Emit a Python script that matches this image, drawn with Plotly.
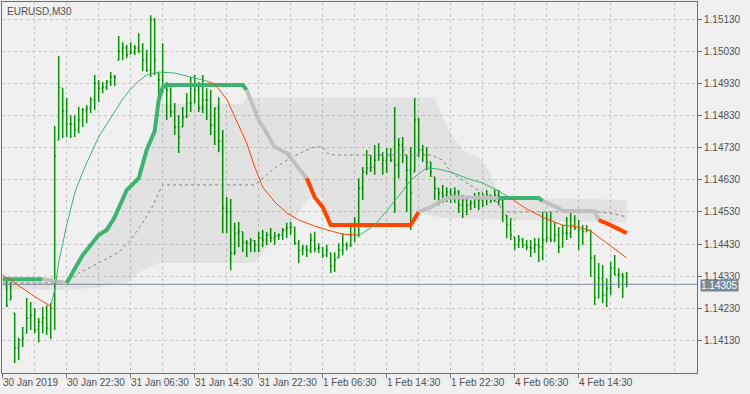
import plotly.graph_objects as go

chart_title = "EURUSD,M30"
x_tick_index = [0, 16, 32, 48, 64, 80, 96, 112, 128, 144]
x_tick_labels = ["30 Jan 2019", "30 Jan 22:30", "31 Jan 06:30", "31 Jan 14:30", "31 Jan 22:30",
                 "1 Feb 06:30", "1 Feb 14:30", "1 Feb 22:30", "4 Feb 06:30", "4 Feb 14:30"]
x_grid_minor = [8, 24, 40, 56, 72, 88, 104, 120, 136, 152, 168]
y_tick_values = [1.14130, 1.14230, 1.14330, 1.14430, 1.14530, 1.14630, 1.14730, 1.14830,
                 1.14930, 1.15030, 1.15130]
last_price = 1.14305

bar_index = list(range(1, 157))
bar_high = [1.14318, 1.14312, 1.14216, 1.14138, 1.14172, 1.14262, 1.14250, 1.14231, 1.14200, 1.14234,
            1.14240, 1.14247, 1.14797, 1.15015, 1.14915, 1.14884, 1.14831, 1.14831, 1.14856, 1.14853,
            1.14862, 1.14887, 1.14956, 1.14940, 1.14934, 1.14940, 1.14965, 1.14956, 1.15077, 1.15058,
            1.15049, 1.15058, 1.15049, 1.15086, 1.15055, 1.15034, 1.15142, 1.15133, 1.14962, 1.15055,
            1.14934, 1.14918, 1.14869, 1.14831, 1.14856, 1.14900, 1.14950, 1.14956, 1.14934, 1.14956,
            1.14915, 1.14909, 1.14853, 1.14887, 1.14785, 1.14576, 1.14570, 1.14496, 1.14499, 1.14468,
            1.14443, 1.14449, 1.14443, 1.14468, 1.14474, 1.14468, 1.14480, 1.14468, 1.14464, 1.14480,
            1.14496, 1.14499, 1.14483, 1.14443, 1.14427, 1.14427, 1.14464, 1.14468, 1.14433, 1.14421,
            1.14427, 1.14402, 1.14405, 1.14433, 1.14464, 1.14436, 1.14496, 1.14514, 1.14635, 1.14670,
            1.14723, 1.14707, 1.14738, 1.14744, 1.14716, 1.14729, 1.14729, 1.14856, 1.14760, 1.14763,
            1.14707, 1.14732, 1.14884, 1.14822, 1.14738, 1.14732, 1.14685, 1.14639, 1.14604, 1.14614,
            1.14607, 1.14604, 1.14607, 1.14598, 1.14583, 1.14576, 1.14567, 1.14589, 1.14592, 1.14589,
            1.14598, 1.14583, 1.14598, 1.14598, 1.14567, 1.14520, 1.14511, 1.14452, 1.14458, 1.14449,
            1.14443, 1.14443, 1.14449, 1.14449, 1.14530, 1.14530, 1.14530, 1.14499, 1.14483, 1.14489,
            1.14514, 1.14530, 1.14520, 1.14505, 1.14489, 1.14489, 1.14474, 1.14396, 1.14371, 1.14365,
            1.14324, 1.14374, 1.14396, 1.14355, 1.14340, 1.14343]
bar_low = [1.14234, 1.14256, 1.14060, 1.14069, 1.14110, 1.14153, 1.14163, 1.14153, 1.14125, 1.14153,
           1.14147, 1.14135, 1.14163, 1.14754, 1.14760, 1.14763, 1.14760, 1.14763, 1.14775, 1.14794,
           1.14806, 1.14838, 1.14847, 1.14872, 1.14900, 1.14909, 1.14922, 1.14922, 1.15002, 1.15002,
           1.15009, 1.15021, 1.15018, 1.15024, 1.14968, 1.14965, 1.14950, 1.14956, 1.14878, 1.14900,
           1.14816, 1.14825, 1.14769, 1.14713, 1.14794, 1.14822, 1.14841, 1.14869, 1.14841, 1.14838,
           1.14816, 1.14769, 1.14738, 1.14716, 1.14464, 1.14464, 1.14349, 1.14396, 1.14421, 1.14405,
           1.14390, 1.14405, 1.14405, 1.14405, 1.14421, 1.14427, 1.14436, 1.14427, 1.14443, 1.14443,
           1.14449, 1.14458, 1.14427, 1.14371, 1.14396, 1.14390, 1.14402, 1.14405, 1.14402, 1.14387,
           1.14390, 1.14340, 1.14343, 1.14387, 1.14396, 1.14411, 1.14421, 1.14436, 1.14452, 1.14567,
           1.14646, 1.14654, 1.14646, 1.14691, 1.14646, 1.14651, 1.14685, 1.14527, 1.14635, 1.14682,
           1.14530, 1.14474, 1.14654, 1.14701, 1.14685, 1.14660, 1.14639, 1.14567, 1.14551, 1.14558,
           1.14561, 1.14558, 1.14558, 1.14527, 1.14511, 1.14520, 1.14536, 1.14542, 1.14536, 1.14545,
           1.14551, 1.14558, 1.14561, 1.14551, 1.14499, 1.14449, 1.14443, 1.14411, 1.14418, 1.14418,
           1.14411, 1.14390, 1.14402, 1.14374, 1.14380, 1.14436, 1.14436, 1.14436, 1.14402, 1.14421,
           1.14443, 1.14449, 1.14474, 1.14411, 1.14427, 1.14468, 1.14328, 1.14240, 1.14262, 1.14247,
           1.14234, 1.14271, 1.14334, 1.14293, 1.14262, 1.14296]
bar_close = [1.14240, 1.14268, 1.14107, 1.14132, 1.14138, 1.14200, 1.14209, 1.14163, 1.14188, 1.14200,
             1.14169, 1.14231, 1.14704, 1.14918, 1.14844, 1.14803, 1.14803, 1.14785, 1.14816, 1.14847,
             1.14853, 1.14878, 1.14931, 1.14915, 1.14918, 1.14934, 1.14950, 1.14950, 1.15030, 1.15040,
             1.15018, 1.15027, 1.15040, 1.15030, 1.15002, 1.14971, 1.15127, 1.15002, 1.14940, 1.14915,
             1.14909, 1.14841, 1.14794, 1.14763, 1.14825, 1.14869, 1.14869, 1.14909, 1.14853, 1.14878,
             1.14878, 1.14800, 1.14853, 1.14751, 1.14542, 1.14530, 1.14402, 1.14464, 1.14468, 1.14436,
             1.14433, 1.14440, 1.14427, 1.14449, 1.14443, 1.14458, 1.14449, 1.14455, 1.14458, 1.14474,
             1.14480, 1.14483, 1.14433, 1.14411, 1.14418, 1.14411, 1.14443, 1.14415, 1.14418, 1.14396,
             1.14411, 1.14362, 1.14380, 1.14411, 1.14427, 1.14427, 1.14458, 1.14489, 1.14604, 1.14654,
             1.14667, 1.14670, 1.14691, 1.14707, 1.14691, 1.14707, 1.14691, 1.14676, 1.14738, 1.14723,
             1.14660, 1.14589, 1.14816, 1.14723, 1.14707, 1.14685, 1.14654, 1.14604, 1.14589, 1.14583,
             1.14592, 1.14583, 1.14592, 1.14551, 1.14567, 1.14551, 1.14558, 1.14574, 1.14567, 1.14574,
             1.14583, 1.14567, 1.14583, 1.14567, 1.14530, 1.14489, 1.14458, 1.14427, 1.14443, 1.14427,
             1.14421, 1.14418, 1.14427, 1.14421, 1.14443, 1.14449, 1.14443, 1.14458, 1.14421, 1.14464,
             1.14464, 1.14489, 1.14480, 1.14474, 1.14468, 1.14474, 1.14387, 1.14262, 1.14324, 1.14271,
             1.14293, 1.14355, 1.14334, 1.14334, 1.14328, 1.14305]
bar_open = [1.14300, 1.14256, 1.14216, 1.14107, 1.14132, 1.14153, 1.14200, 1.14209, 1.14163, 1.14188,
            1.14200, 1.14169, 1.14231, 1.14754, 1.14915, 1.14844, 1.14803, 1.14803, 1.14785, 1.14816,
            1.14847, 1.14853, 1.14878, 1.14931, 1.14915, 1.14918, 1.14934, 1.14950, 1.15002, 1.15030,
            1.15040, 1.15021, 1.15027, 1.15040, 1.15030, 1.15002, 1.14971, 1.15127, 1.14962, 1.14940,
            1.14915, 1.14909, 1.14841, 1.14794, 1.14794, 1.14825, 1.14869, 1.14869, 1.14909, 1.14853,
            1.14878, 1.14878, 1.14800, 1.14853, 1.14751, 1.14542, 1.14530, 1.14402, 1.14464, 1.14468,
            1.14436, 1.14433, 1.14440, 1.14427, 1.14449, 1.14443, 1.14458, 1.14449, 1.14455, 1.14458,
            1.14474, 1.14480, 1.14483, 1.14433, 1.14411, 1.14418, 1.14411, 1.14443, 1.14415, 1.14418,
            1.14396, 1.14402, 1.14362, 1.14387, 1.14411, 1.14427, 1.14427, 1.14458, 1.14489, 1.14604,
            1.14654, 1.14667, 1.14670, 1.14691, 1.14707, 1.14691, 1.14707, 1.14691, 1.14676, 1.14738,
            1.14707, 1.14660, 1.14654, 1.14816, 1.14723, 1.14707, 1.14685, 1.14639, 1.14604, 1.14589,
            1.14583, 1.14592, 1.14583, 1.14592, 1.14551, 1.14567, 1.14551, 1.14558, 1.14574, 1.14567,
            1.14574, 1.14583, 1.14567, 1.14583, 1.14567, 1.14520, 1.14489, 1.14452, 1.14427, 1.14443,
            1.14427, 1.14421, 1.14418, 1.14427, 1.14421, 1.14443, 1.14449, 1.14443, 1.14458, 1.14421,
            1.14464, 1.14464, 1.14489, 1.14480, 1.14474, 1.14468, 1.14474, 1.14387, 1.14262, 1.14324,
            1.14271, 1.14293, 1.14355, 1.14334, 1.14334, 1.14328]

# thin moving average
ma_index = [0, 3, 6, 9, 12, 13, 14, 16, 18, 20, 22, 24, 26, 28, 30, 32, 34, 36, 39, 43, 46, 51, 53,
            56, 58, 61, 63, 65, 68, 71, 74, 78, 82, 85, 89, 90, 93, 96, 99, 102, 105, 106, 109, 112,
            116, 120, 124, 127, 131, 136, 140, 144, 147, 149, 153, 156]
ma_value = [1.14334, 1.14309, 1.14284, 1.14259, 1.14237, 1.14287, 1.14374, 1.14489, 1.14589, 1.14654,
            1.14710, 1.14763, 1.14803, 1.14844, 1.14881, 1.14912, 1.14937, 1.14956, 1.14965, 1.14962,
            1.14953, 1.14937, 1.14928, 1.14881, 1.14825, 1.14744, 1.14670, 1.14607, 1.14561, 1.14527,
            1.14505, 1.14486, 1.14471, 1.14461, 1.14458, 1.14464, 1.14489, 1.14533, 1.14579, 1.14629,
            1.14657, 1.14667, 1.14663, 1.14654, 1.14635, 1.14620, 1.14595, 1.14573, 1.14539, 1.14508,
            1.14489, 1.14483, 1.14471, 1.14452, 1.14415, 1.14387]
ma_turn_index = [0, 12, 51, 89, 127, 156]
ma_turn_dir = ["down", "up", "down", "up", "down"]

# thick trend line with three states
trend_index = [0, 10, 16, 20, 24, 26, 28, 31, 34, 36, 38, 39, 40, 41, 60, 61, 62, 64, 66, 68, 71, 73,
               76, 78, 80, 82, 102, 104, 107, 110, 112, 124, 134, 135, 139, 140, 148, 149, 152, 156]
trend_value = [1.14321, 1.14321, 1.14309, 1.14396, 1.14458, 1.14474, 1.14514, 1.14598, 1.14635,
               1.14723, 1.14782, 1.14878, 1.14918, 1.14925, 1.14925, 1.14909, 1.14878, 1.14816,
               1.14775, 1.14732, 1.14713, 1.14682, 1.14635, 1.14576, 1.14545, 1.14489, 1.14489,
               1.14530, 1.14545, 1.14567, 1.14576, 1.14573, 1.14573, 1.14564, 1.14542, 1.14533,
               1.14533, 1.14505, 1.14489, 1.14464]
trend_state = ["up", "flat", "up", "up", "up", "up", "up", "up", "up", "up", "up", "up", "up", "up",
               "up", "flat", "flat", "flat", "flat", "flat", "flat", "flat", "down", "down", "down",
               "down", "down", "flat", "flat", "flat", "flat", "up", "up", "flat", "flat", "flat",
               "flat", "down", "down", "down"]

# dashed middle line
mid_index = [0, 16, 19, 24, 29, 32, 35, 37, 39, 40, 63, 68, 72, 76, 78, 80, 81, 83, 107, 110, 112,
             116, 120, 124, 125, 149, 152, 156]
mid_value = [1.14309, 1.14309, 1.14340, 1.14371, 1.14405, 1.14443, 1.14496, 1.14536, 1.14589, 1.14614,
             1.14614, 1.14667, 1.14698, 1.14723, 1.14732, 1.14732, 1.14713, 1.14707, 1.14707, 1.14691,
             1.14654, 1.14620, 1.14589, 1.14558, 1.14530, 1.14530, 1.14527, 1.14514]

# shaded channel
band_upper_index = [0, 16, 20, 24, 28, 31, 34, 36, 38, 39, 60, 61, 108, 110, 112, 115, 119, 121, 123,
                    124, 125, 156]
band_upper_value = [1.14321, 1.14309, 1.14396, 1.14458, 1.14514, 1.14598, 1.14635, 1.14723, 1.14782,
                    1.14866, 1.14866, 1.14887, 1.14887, 1.14825, 1.14775, 1.14723, 1.14701, 1.14670,
                    1.14620, 1.14589, 1.14576, 1.14567]
band_lower_index = [0, 16, 24, 31, 34, 36, 39, 63, 66, 71, 74, 76, 79, 80, 82, 102, 104, 110, 127, 156]
band_lower_value = [1.14287, 1.14287, 1.14296, 1.14312, 1.14340, 1.14355, 1.14371, 1.14371, 1.14421,
                    1.14474, 1.14527, 1.14567, 1.14583, 1.14567, 1.14489, 1.14489, 1.14527, 1.14511,
                    1.14505, 1.14496]

BG = "#f0f0f0"
GRID = "#c8c8c8"
FRAME = "#6e6e6e"
TEXT = "#505050"
BAR = "#079207"
GREEN = "#3cb371"
RED = "#ff4500"
SILVER = "#c0c0c0"
STATE_COLOR = {"up": GREEN, "down": RED, "flat": SILVER}
FONT = "Liberation Sans"

fig = go.Figure()

# channel band
fig.add_trace(go.Scatter(
    x=band_upper_index + band_lower_index[::-1],
    y=band_upper_value + band_lower_value[::-1],
    fill="toself", fillcolor="rgba(0,0,0,0.055)", line=dict(width=0),
    mode="lines", hoverinfo="skip"))

# last price line
fig.add_trace(go.Scatter(x=[-1, 180], y=[last_price, last_price], mode="lines",
                         line=dict(color="#778899", width=1), hoverinfo="skip"))

# price bars
fig.add_trace(go.Ohlc(x=bar_index, open=bar_open, high=bar_high, low=bar_low, close=bar_close,
                      increasing=dict(line=dict(color=BAR, width=1.5)),
                      decreasing=dict(line=dict(color=BAR, width=1.5)),
                      tickwidth=0.3, hoverinfo="skip"))

# dashed middle
fig.add_trace(go.Scatter(x=mid_index, y=mid_value, mode="lines",
                         line=dict(color="#858585", width=1, dash="3px,3px"), hoverinfo="skip"))

# thick trend line in coloured runs
start = 0
n = len(trend_index)
while start < n - 1:
    st = trend_state[start]
    end = start
    while end < n - 1 and trend_state[end] == st:
        end += 1
    fig.add_trace(go.Scatter(x=trend_index[start:end + 1], y=trend_value[start:end + 1], mode="lines",
                             line=dict(color=STATE_COLOR[st], width=4), hoverinfo="skip"))
    start = end

# thin MA in coloured runs
for k, d in enumerate(ma_turn_dir):
    a, b = ma_turn_index[k], ma_turn_index[k + 1]
    xs = [i for i in ma_index if a <= i <= b]
    ys = [v for i, v in zip(ma_index, ma_value) if a <= i <= b]
    fig.add_trace(go.Scatter(x=xs, y=ys, mode="lines",
                             line=dict(color=STATE_COLOR[d], width=1), hoverinfo="skip"))

annotations = [dict(x=0, y=1, xref="paper", yref="paper", xanchor="left", yanchor="top",
                    xshift=3, yshift=-2, text=chart_title, showarrow=False,
                    font=dict(family=FONT, size=10, color=TEXT))]
for xi, lab in zip(x_tick_index, x_tick_labels):
    annotations.append(dict(x=xi, y=0, xref="x", yref="paper", xanchor="left", yanchor="top",
                            xshift=-2, yshift=-2, text=lab, showarrow=False,
                            font=dict(family=FONT, size=10, color=TEXT)))
annotations.append(dict(x=1, y=last_price, xref="paper", yref="y", xanchor="left", yanchor="middle",
                        xshift=3, yshift=-1, text=f"{last_price:.5f}", showarrow=False,
                        bgcolor="#778899", borderpad=0,
                        font=dict(family=FONT, size=10, color="#ffffff")))

fig.update_layout(
    width=750, height=394, margin=dict(l=2, r=53, t=2, b=21),
    paper_bgcolor=BG, plot_bgcolor=BG, showlegend=False,
    font=dict(family=FONT, size=10, color=TEXT),
    annotations=annotations,
)
fig.update_xaxes(
    range=[-0.175, 173.575], tickmode="array", tickvals=x_tick_index, showticklabels=False,
    ticks="outside", ticklen=4, tickcolor=FRAME, showgrid=True, gridcolor=GRID, gridwidth=1,
    griddash="3px,3px",
    minor=dict(tickmode="array", tickvals=x_grid_minor, showgrid=True, gridcolor=GRID,
               griddash="3px,3px", ticks=""),
    showline=True, linecolor=FRAME, linewidth=1, mirror=True, zeroline=False,
    rangeslider=dict(visible=False))
fig.update_yaxes(
    side="right", range=[1.140291, 1.151829], tickmode="array", tickvals=y_tick_values,
    tickformat=".5f", ticks="outside", ticklen=4, tickcolor=FRAME, showgrid=True, gridcolor=GRID,
    gridwidth=1, griddash="3px,3px", showline=True, linecolor=FRAME, linewidth=1, mirror=True,
    zeroline=False, tickfont=dict(family=FONT, size=10, color=TEXT))

fig.write_html("out.html")
